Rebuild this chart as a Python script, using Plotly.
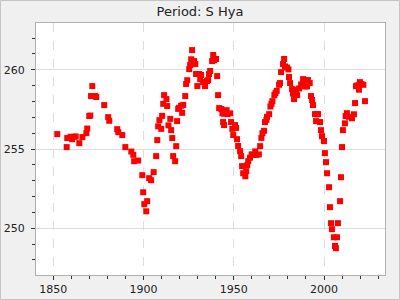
import plotly.graph_objects as go

years = [1852.2, 1857.4, 1857.7, 1859.6, 1860.4, 1861.5, 1862.4, 1864.4, 1866.1, 1868.3,
         1868.8, 1869.9, 1870.5, 1871.6, 1870.9, 1873.2, 1873.8, 1878.2, 1880.4, 1881.0,
         1885.4, 1886.0, 1888.2, 1889.9, 1893.2, 1894.3, 1894.8, 1897.0, 1899.3, 1899.8,
         1900.4, 1901.5, 1902.0, 1903.1, 1904.2, 1905.6, 1907.0, 1907.6, 1908.1, 1908.8,
         1909.8, 1910.3, 1910.9, 1911.4, 1912.7, 1913.1, 1913.8, 1914.8, 1915.3, 1915.9,
         1916.4, 1917.5, 1918.1, 1918.6, 1919.2, 1919.7, 1920.8, 1922.0, 1921.4, 1923.1,
         1923.6, 1924.2, 1925.3, 1925.8, 1926.4, 1926.9, 1927.5, 1928.0, 1928.7, 1929.1,
         1929.8, 1930.8, 1931.4, 1931.9, 1933.0, 1934.1, 1935.2, 1935.8, 1936.3, 1936.9,
         1938.0, 1938.6, 1939.1, 1940.2, 1940.8, 1941.3, 1941.9, 1943.1, 1943.7, 1944.6,
         1946.0, 1946.5, 1948.0, 1944.1, 1944.6, 1948.5, 1949.2, 1950.7, 1951.3, 1949.7,
         1951.8, 1952.4, 1953.5, 1954.1, 1954.6, 1955.2, 1956.4, 1956.9, 1957.4, 1958.0,
         1959.0, 1959.9, 1960.7, 1961.9, 1962.6, 1963.9, 1964.6, 1965.3, 1965.9, 1966.8,
         1967.3, 1968.1, 1968.4, 1969.6, 1970.3, 1970.9, 1971.4, 1972.5, 1973.1, 1973.8,
         1975.1, 1975.6, 1976.2, 1977.3, 1977.9, 1978.4, 1979.5, 1980.3, 1980.6, 1981.2,
         1982.3, 1982.8, 1983.4, 1983.9, 1984.5, 1985.1, 1986.2, 1987.3, 1988.4, 1988.9,
         1989.5, 1990.0, 1990.6, 1991.1, 1992.1, 1992.8, 1993.4, 1993.9, 1995.0, 1996.1,
         1996.7, 1995.6, 1997.8, 1998.3, 1998.9, 2000.0, 2000.5, 2001.1, 2001.7, 2002.8,
         2003.3, 2003.9, 2004.4, 2005.5, 2006.1, 2006.6, 2007.2, 2007.7, 2008.9, 2009.4,
         2010.0, 2010.5, 2011.6, 2012.0, 2012.7, 2013.8, 2015.5, 2016.6, 2017.2, 2017.7,
         2018.4, 2019.4, 2019.9, 2020.7, 2021.8, 2019.4, 2022.7]

periods = [255.94, 255.12, 255.69, 255.77, 255.62, 255.77, 255.79, 255.37, 255.75, 256.00,
           256.29, 257.08, 257.11, 258.97, 258.34, 258.34, 258.28, 257.77, 257.01, 256.78,
           256.25, 256.06, 255.88, 255.12, 254.84, 254.63, 254.23, 254.27, 253.35, 252.27,
           251.52, 251.07, 251.71, 253.16, 253.03, 253.54, 254.55, 255.56, 256.43, 256.82,
           256.27, 257.09, 257.85, 258.40, 258.15, 257.71, 256.49, 256.90, 256.19, 255.69,
           254.55, 254.23, 255.18, 256.76, 257.53, 257.60, 257.73, 257.78, 257.28, 258.34,
           259.10, 259.34, 260.04, 260.30, 260.66, 261.24, 260.36, 260.55, 260.36, 259.73,
           258.97, 259.73, 259.41, 259.67, 259.22, 258.97, 259.29, 259.35, 259.73, 259.92,
           260.55, 260.93, 260.60, 260.68, 259.60, 258.40, 257.58, 257.52, 257.25, 257.23,
           257.45, 257.20, 257.25, 256.70, 256.51, 256.70, 256.27, 256.51, 256.33, 255.88,
           255.62, 255.19, 254.86, 254.55, 253.92, 253.47, 253.28, 253.60, 253.97, 254.23,
           254.45, 254.66, 254.63, 254.85, 254.63, 254.66, 255.18, 255.70, 256.00, 256.15,
           256.70, 256.84, 257.03, 257.20, 257.68, 257.85, 258.02, 258.40, 258.53, 258.67,
           259.05, 259.16, 259.85, 260.36, 260.68, 260.21, 260.14, 260.02, 259.54, 259.16,
           258.78, 258.50, 258.15, 258.40, 258.74, 258.40, 258.82, 259.07, 259.41, 259.20,
           258.95, 259.26, 258.95, 259.35, 259.16, 258.34, 258.09, 257.77, 257.20, 257.20,
           257.20, 256.76, 256.70, 256.19, 255.81, 255.50, 254.74, 254.17, 253.47, 252.59,
           251.33, 250.32, 249.94, 249.43, 248.88, 248.74, 249.43, 250.32, 251.71, 253.22,
           255.12, 256.19, 256.62, 257.08, 257.26, 257.03, 256.94, 257.19, 257.90, 258.96,
           259.01, 259.01, 259.22, 259.10, 259.05, 258.74, 258.02]

x_ticks = [1850, 1900, 1950, 2000]
y_ticks = [250, 255, 260]
title_text = "Period: S Hya"

fig = go.Figure()
fig.add_trace(go.Scatter(
    x=years, y=periods, mode="markers",
    marker=dict(symbol="square", size=6, color="#ff0000", line=dict(width=0)),
    showlegend=False,
))

L, R, T, B = 36, 15, 23, 25
W, H = 400, 300
pw, ph = W - L - R, H - T - B

fig.update_layout(
    width=W, height=H,
    margin=dict(l=L, r=R, t=T, b=B, pad=0),
    paper_bgcolor="#f0f0f0",
    plot_bgcolor="#ffffff",
    font=dict(family="DejaVu Sans", size=11, color="#222222"),
    title=dict(text=title_text, x=0.5, xref="container", xanchor="center",
               y=1 - 11 / H, yref="container", yanchor="middle",
               font=dict(family="DejaVu Sans", size=13, color="#222222")),
    xaxis=dict(
        range=[1840.4, 2033.8], tickvals=x_ticks, ticktext=[str(v) for v in x_ticks],
        automargin=False,
        showgrid=True, gridcolor="#dddddd", griddash="dash", gridwidth=1,
        zeroline=False, showline=True, linecolor="#b0b0b0", linewidth=1, mirror=True,
        ticks="outside", ticklen=4, tickcolor="#333333",
        minor=dict(dtick=10, tick0=1850, ticks="outside", ticklen=3, tickcolor="#333333", showgrid=False),
        tickfont=dict(size=11, color="#222222"),
    ),
    yaxis=dict(
        range=[247.05, 262.95], tickvals=y_ticks, ticktext=[str(v) for v in y_ticks],
        automargin=False,
        showgrid=True, gridcolor="#dddddd", gridwidth=1,
        zeroline=False, showline=True, linecolor="#b0b0b0", linewidth=1, mirror=True,
        ticks="outside", ticklen=4, tickcolor="#333333",
        minor=dict(dtick=1, tick0=250, ticks="outside", ticklen=3, tickcolor="#333333", showgrid=False),
        tickfont=dict(size=11, color="#222222"), ticklabelstandoff=4,
    ),
    shapes=[dict(
        type="rect", xref="paper", yref="paper", layer="above",
        x0=(0.5 - L) / pw, x1=(W - 0.5 - L) / pw,
        y0=(H - B - (H - 0.5)) / ph, y1=(H - B - 0.5) / ph,
        line=dict(color="#c4c4c4", width=1), fillcolor="rgba(0,0,0,0)",
    )],
)

fig.write_html("out.html")
